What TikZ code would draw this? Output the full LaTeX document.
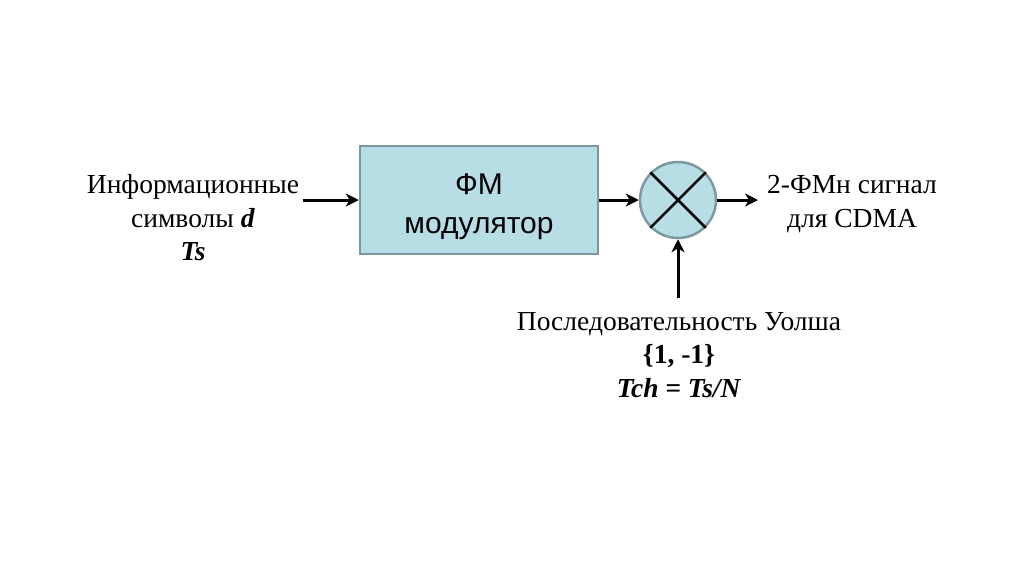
\documentclass[tikz,border=0pt]{standalone}
\usepackage{fontspec}
\setmainfont{Liberation Serif}
\newfontfamily\arialf{Liberation Sans}
\usetikzlibrary{arrows.meta}
\definecolor{boxfill}{RGB}{183,222,228}
\definecolor{boxline}{RGB}{125,152,158}
\begin{document}
\begin{tikzpicture}[x=1pt,y=-1pt,
  lbl/.style={font=\fontsize{27.5}{33.5}\selectfont, align=center, inner sep=0pt},
  arr/.style={-{Stealth[length=13pt,width=13pt,inset=4pt]}, line width=3pt, black},
  blk/.style={draw=boxline, line width=2.5pt, fill=boxfill}]
\useasboundingbox[fill=white] (0,0) rectangle (1024,574);
\node[blk, minimum width=238pt, minimum height=108pt, inner sep=0pt] (mod) at (479,200) {};
\node[font=\arialf\fontsize{30}{39}\selectfont, align=center, inner sep=0pt] (modtxt) at (479,207) {ФМ\\модулятор};
\node[blk, circle, minimum size=76pt, inner sep=0pt] (mix) at (678,200) {};
\draw[line width=2.5pt] (mix.north west) -- (mix.south east);
\draw[line width=2.5pt] (mix.north east) -- (mix.south west);
\node[lbl] (inp) at (193,218) {Информационные\\символы \textbf{\textit{d}}\\\textbf{\textit{Ts}}};
\node[lbl] (out) at (852,204) {2-ФМн сигнал\\для CDMA};
\node[lbl] (walsh) at (679,355) {Последовательность Уолша\\\textbf{\{1, -1\}}\\\textbf{\textit{Tch = Ts/N}}};
\coordinate (a) at (303,200);
\coordinate (b) at (758,200);
\coordinate (c) at (678,298);
\draw[arr] (a) -- (mod.west);
\draw[arr] (mod.east) -- (mix.west);
\draw[arr] (mix.east) -- (b);
\draw[arr] (c) -- (mix.south);
\end{tikzpicture}
\end{document}
